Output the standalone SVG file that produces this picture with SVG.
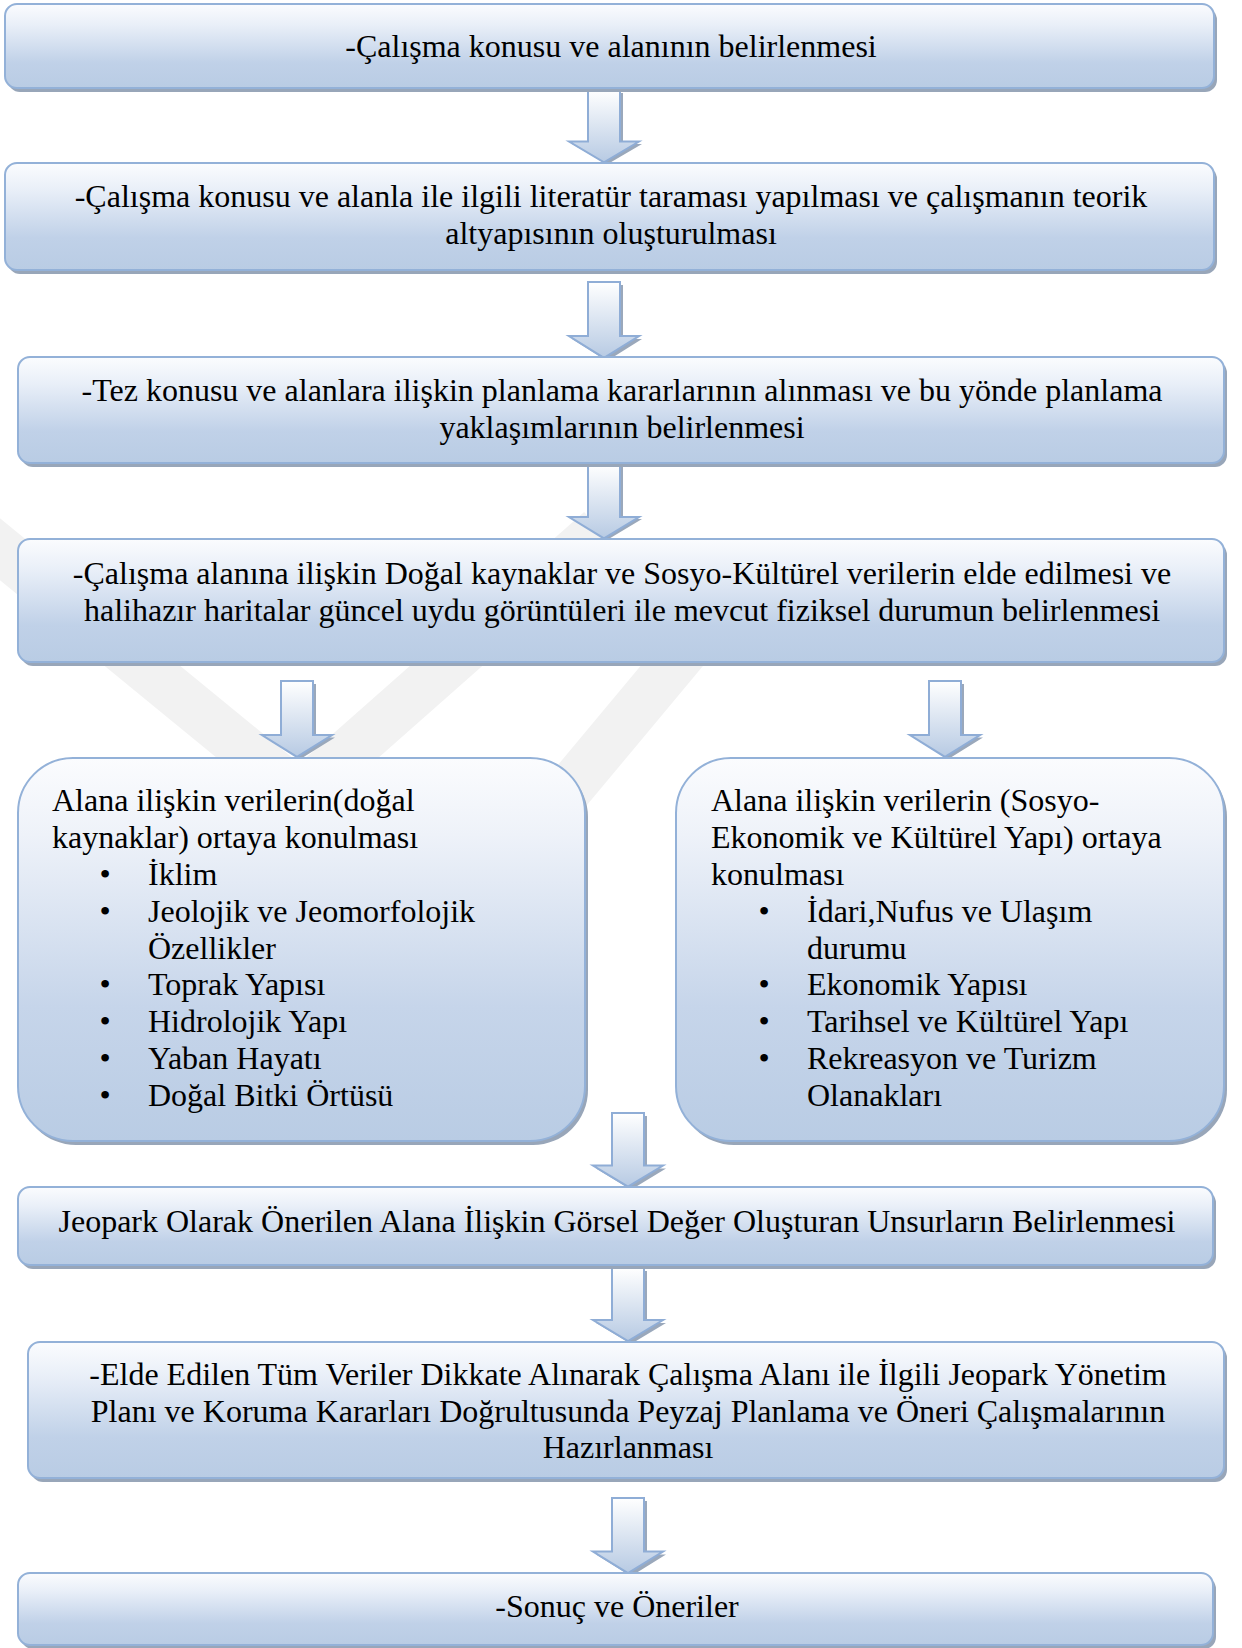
<svg xmlns="http://www.w3.org/2000/svg" width="1242" height="1648" viewBox="0 0 1242 1648">
<defs>
<linearGradient id="gBox" x1="0" y1="0" x2="0" y2="1">
<stop offset="0" stop-color="#fbfcfe"/>
<stop offset="0.25" stop-color="#e9eff8"/>
<stop offset="0.7" stop-color="#c0d1e8"/>
<stop offset="1" stop-color="#b9cce4"/>
</linearGradient>
<linearGradient id="gBig" x1="0" y1="0" x2="0" y2="1">
<stop offset="0" stop-color="#fbfcfe"/>
<stop offset="0.2" stop-color="#eef2f9"/>
<stop offset="0.65" stop-color="#c6d5ea"/>
<stop offset="1" stop-color="#b9cce4"/>
</linearGradient>
<linearGradient id="gArr" x1="0" y1="0" x2="0" y2="1">
<stop offset="0" stop-color="#ffffff"/>
<stop offset="1" stop-color="#b7cae3"/>
</linearGradient>
<path id="arrow" d="M-16,0 H16 V52 H35 L0,73 L-35,52 H-16 Z"/>
</defs>
<style>
.box{fill:url(#gBox);stroke:#93b1d8;stroke-width:2}
.big{fill:url(#gBig);stroke:#93b1d8;stroke-width:2}
.sh{fill:#98a6b9}
.arr{fill:url(#gArr);stroke:#8fadd6;stroke-width:2}
.ash{fill:#9aa8bb}
text{font-family:"Liberation Serif","Times New Roman",serif;font-size:32px;fill:#000}
.c{text-anchor:middle}
.wm{fill:none;stroke:#f2f2f2;stroke-width:48}
</style>
<rect width="1242" height="1648" fill="#ffffff"/>
<g id="watermark">
<line class="wm" x1="-60" y1="500" x2="300" y2="795"/>
<line class="wm" x1="300" y1="795" x2="600" y2="530"/>
<line class="wm" x1="560" y1="800" x2="760" y2="560"/>
</g>
<g id="connectors">
<g transform="translate(607,93) scale(1,0.98)"><use href="#arrow" class="ash"/></g>
<g transform="translate(604,90) scale(1,0.99)"><use href="#arrow" class="arr"/></g>
<g transform="translate(607,285) scale(1,1.04)"><use href="#arrow" class="ash"/></g>
<g transform="translate(604,282) scale(1,1.04)"><use href="#arrow" class="arr"/></g>
<g transform="translate(607,467)"><use href="#arrow" class="ash"/></g>
<g transform="translate(604,464) scale(1,1.02)"><use href="#arrow" class="arr"/></g>
<g transform="translate(300,684) scale(1,1.03)"><use href="#arrow" class="ash"/></g>
<g transform="translate(297,681) scale(1,1.04)"><use href="#arrow" class="arr"/></g>
<g transform="translate(948,684) scale(1,1.03)"><use href="#arrow" class="ash"/></g>
<g transform="translate(945,681) scale(1,1.04)"><use href="#arrow" class="arr"/></g>
<g transform="translate(631,1116) scale(1,1.01)"><use href="#arrow" class="ash"/></g>
<g transform="translate(628,1113) scale(1,1.01)"><use href="#arrow" class="arr"/></g>
<g transform="translate(631,1271) scale(1,1.0)"><use href="#arrow" class="ash"/></g>
<g transform="translate(628,1268) scale(1,1.0)"><use href="#arrow" class="arr"/></g>
<g transform="translate(631,1501) scale(1,1.03)"><use href="#arrow" class="ash"/></g>
<g transform="translate(628,1498) scale(1,1.03)"><use href="#arrow" class="arr"/></g>
</g>
<g id="n1">
<rect class="sh" x="8" y="8" width="1209" height="84" rx="12"/>
<rect class="box" x="5" y="4" width="1209" height="84" rx="12"/>
<text class="c" x="611" y="57">-Çalışma konusu ve alanının belirlenmesi</text>
</g>
<g id="n2">
<rect class="sh" x="8" y="167" width="1209" height="107" rx="12"/>
<rect class="box" x="5" y="163" width="1209" height="107" rx="12"/>
<text class="c" x="611" y="207">-Çalışma konusu ve alanla ile ilgili literatür taraması yapılması ve çalışmanın teorik</text>
<text class="c" x="611" y="244">altyapısının oluşturulması</text>
</g>
<g id="n3">
<rect class="sh" x="21" y="361" width="1206" height="106" rx="12"/>
<rect class="box" x="18" y="357" width="1206" height="106" rx="12"/>
<text class="c" x="622" y="401">-Tez konusu ve alanlara ilişkin planlama kararlarının alınması ve bu yönde planlama</text>
<text class="c" x="622" y="438">yaklaşımlarının belirlenmesi</text>
</g>
<g id="n4">
<rect class="sh" x="21" y="543" width="1206" height="123" rx="12"/>
<rect class="box" x="18" y="539" width="1206" height="123" rx="12"/>
<text class="c" x="622" y="584">-Çalışma alanına ilişkin Doğal kaynaklar ve Sosyo-Kültürel verilerin elde edilmesi ve</text>
<text class="c" x="622" y="621">halihazır haritalar güncel uydu görüntüleri ile mevcut fiziksel durumun belirlenmesi</text>
</g>
<g id="n5">
<rect class="sh" x="21" y="762" width="567" height="383" rx="55"/>
<rect class="big" x="18" y="758" width="567" height="383" rx="55"/>
<text x="52" y="811">Alana ilişkin verilerin(doğal</text>
<text x="52" y="848">kaynaklar) ortaya konulması</text>
<text class="c" x="105" y="885">•</text><text x="148" y="885">İklim</text>
<text class="c" x="105" y="922">•</text><text x="148" y="922">Jeolojik ve Jeomorfolojik</text>
<text x="148" y="959">Özellikler</text>
<text class="c" x="105" y="995">•</text><text x="148" y="995">Toprak Yapısı</text>
<text class="c" x="105" y="1032">•</text><text x="148" y="1032">Hidrolojik Yapı</text>
<text class="c" x="105" y="1069">•</text><text x="148" y="1069">Yaban Hayatı</text>
<text class="c" x="105" y="1106">•</text><text x="148" y="1106">Doğal Bitki Örtüsü</text>
</g>
<g id="n6">
<rect class="sh" x="679" y="762" width="548" height="383" rx="55"/>
<rect class="big" x="676" y="758" width="548" height="383" rx="55"/>
<text x="711" y="811">Alana ilişkin verilerin (Sosyo-</text>
<text x="711" y="848">Ekonomik ve Kültürel Yapı) ortaya</text>
<text x="711" y="885">konulması</text>
<text class="c" x="764" y="922">•</text><text x="807" y="922">İdari,Nufus ve Ulaşım</text>
<text x="807" y="959">durumu</text>
<text class="c" x="764" y="995">•</text><text x="807" y="995">Ekonomik Yapısı</text>
<text class="c" x="764" y="1032">•</text><text x="807" y="1032">Tarihsel ve Kültürel Yapı</text>
<text class="c" x="764" y="1069">•</text><text x="807" y="1069">Rekreasyon ve Turizm</text>
<text x="807" y="1106">Olanakları</text>
</g>
<g id="n7">
<rect class="sh" x="21" y="1191" width="1195" height="78" rx="12"/>
<rect class="box" x="18" y="1187" width="1195" height="78" rx="12"/>
<text class="c" x="617" y="1232">Jeopark Olarak Önerilen Alana İlişkin Görsel Değer Oluşturan Unsurların Belirlenmesi</text>
</g>
<g id="n8">
<rect class="sh" x="31" y="1346" width="1196" height="136" rx="12"/>
<rect class="box" x="28" y="1342" width="1196" height="136" rx="12"/>
<text class="c" x="628" y="1385">-Elde Edilen Tüm Veriler Dikkate Alınarak Çalışma Alanı ile İlgili Jeopark Yönetim</text>
<text class="c" x="628" y="1422">Planı ve Koruma Kararları Doğrultusunda Peyzaj Planlama ve Öneri Çalışmalarının</text>
<text class="c" x="628" y="1458">Hazırlanması</text>
</g>
<g id="n9">
<rect class="sh" x="21" y="1577" width="1195" height="72" rx="12"/>
<rect class="box" x="18" y="1573" width="1195" height="72" rx="12"/>
<text class="c" x="617" y="1617">-Sonuç ve Öneriler</text>
</g>
</svg>
